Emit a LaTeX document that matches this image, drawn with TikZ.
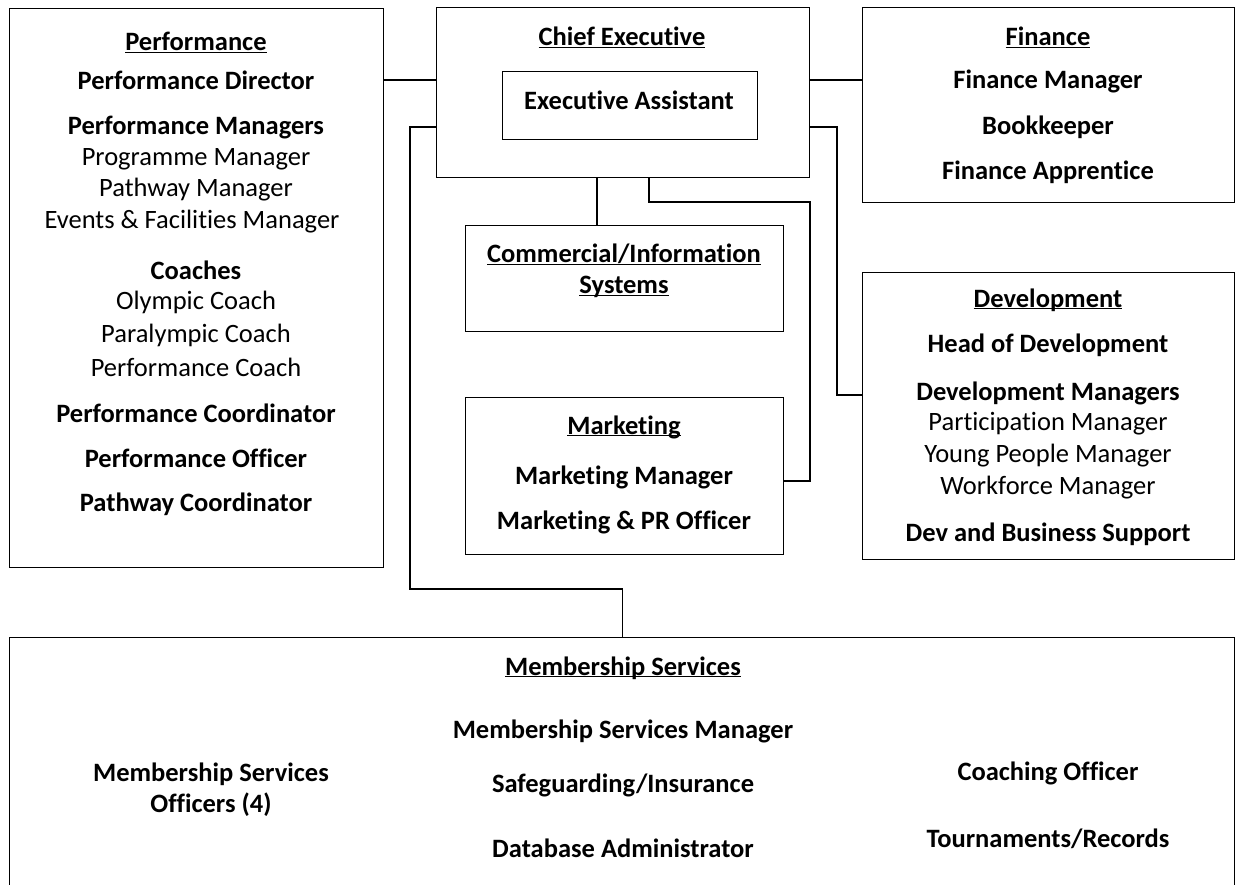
\documentclass[tikz,border=0pt]{standalone}
\usepackage{fontspec}
\setmainfont{Carlito}[Ligatures=NoCommon]
\newcommand{\hdr}[1]{\underline{\smash{\textbf{#1}}}}
\begin{document}
\begin{tikzpicture}[x=1pt,y=-1pt,line width=1.3pt,
  box/.style={draw,anchor=north west,inner sep=0pt},
  txt/.style={inner sep=0pt,font=\fontsize{26.5}{31}\selectfont},
  btxt/.style={txt,font=\fontsize{26.5}{31}\selectfont\bfseries}]
\clip (0,0) rectangle (1236,885);
\fill[white] (0,0) rectangle (1236,885);
% boxes
\node[box,minimum width=374pt,minimum height=559pt] (perf) at (9,8) {};
\node[box,minimum width=373pt,minimum height=170pt] (ceo) at (436,7) {};
\node[box,minimum width=255pt,minimum height=68pt] (assist) at (502,71) {};
\node[box,minimum width=372pt,minimum height=195pt] (fin) at (862,7) {};
\node[box,minimum width=318pt,minimum height=106pt] (comm) at (465,225) {};
\node[box,minimum width=318pt,minimum height=157pt] (mkt) at (465,397) {};
\node[box,minimum width=372pt,minimum height=287pt] (dev) at (862,272) {};
\node[box,minimum width=1225pt,minimum height=300pt] (memb) at (9,637) {};
% connectors
\draw (perf.east |- 0,80) -- (ceo.west |- 0,80);
\draw (ceo.east |- 0,80) -- (fin.west |- 0,80);
\draw (ceo.west |- 0,127) -| (410,589) -| (memb.north);
\draw (ceo.east |- 0,127) -| (837,395) -- (dev.west |- 0,395);
\draw (ceo.south -| 597,0) -- (comm.north -| 597,0);
\draw (ceo.south -| 649,0) |- (810,202) |- (mkt.east |- 0,481);
% performance
\node[btxt] (perfh) at (196,52) {\hdr{Performance}};
\node[btxt] (perf1) at (196,80) {Performance Director};
\node[btxt] (perf2) at (196,128) {Performance Managers};
\node[txt] (perf3) at (196,159) {Programme Manager};
\node[txt] (perf4) at (196,190) {Pathway Manager};
\node[txt] (perf5) at (192,222) {Events \& Facilities Manager};
\node[btxt] (perf6) at (196,270) {Coaches};
\node[txt] (perf7) at (196,302) {Olympic Coach};
\node[txt] (perf8) at (196,335) {Paralympic Coach};
\node[txt] (perf9) at (196,367) {Performance Coach};
\node[btxt] (perf10) at (196,413) {Performance Coordinator};
\node[btxt] (perf11) at (196,458) {Performance Officer};
\node[btxt] (perf12) at (196,504) {Pathway Coordinator};
% chief executive
\node[btxt] (ceoh) at (622,47) {\hdr{Chief Executive}};
\node[btxt] (assisth) at (629,100) {Executive Assistant};
% finance
\node[btxt] (finh) at (1048,47) {\hdr{Finance}};
\node[btxt] (fin1) at (1048,81) {Finance Manager};
\node[btxt] (fin2) at (1048,127) {Bookkeeper};
\node[btxt] (fin3) at (1048,172) {Finance Apprentice};
% commercial
\node[btxt,align=center] (commh) at (624,279) {\hdr{Commercial/Information}\\\hdr{Systems}};
% marketing
\node[btxt] (mkth) at (624,435) {\hdr{Marketing}};
\node[btxt] (mkt1) at (624,477) {Marketing Manager};
\node[btxt] (mkt2) at (624,522) {Marketing \& PR Officer};
% development
\node[btxt] (devh) at (1048,308) {\hdr{Development}};
\node[btxt] (dev1) at (1048,345) {Head of Development};
\node[btxt] (dev2) at (1048,393) {Development Managers};
\node[txt] (dev3) at (1048,424) {Participation Manager};
\node[txt] (dev4) at (1048,456) {Young People Manager};
\node[txt] (dev5) at (1048,488) {Workforce Manager};
\node[btxt] (dev6) at (1048,534) {Dev and Business Support};
% membership services
\node[btxt] (membh) at (623,676) {\hdr{Membership Services}};
\node[btxt] (memb1) at (623,731) {Membership Services Manager};
\node[btxt] (memb2) at (623,785) {Safeguarding/Insurance};
\node[btxt] (memb3) at (623,848) {Database Administrator};
\node[btxt,align=center] (memb4) at (211,790) {Membership Services\\Officers (4)};
\node[btxt] (memb5) at (1048,773) {Coaching Officer};
\node[btxt] (memb6) at (1048,839) {Tournaments/Records};
\end{tikzpicture}
\end{document}
